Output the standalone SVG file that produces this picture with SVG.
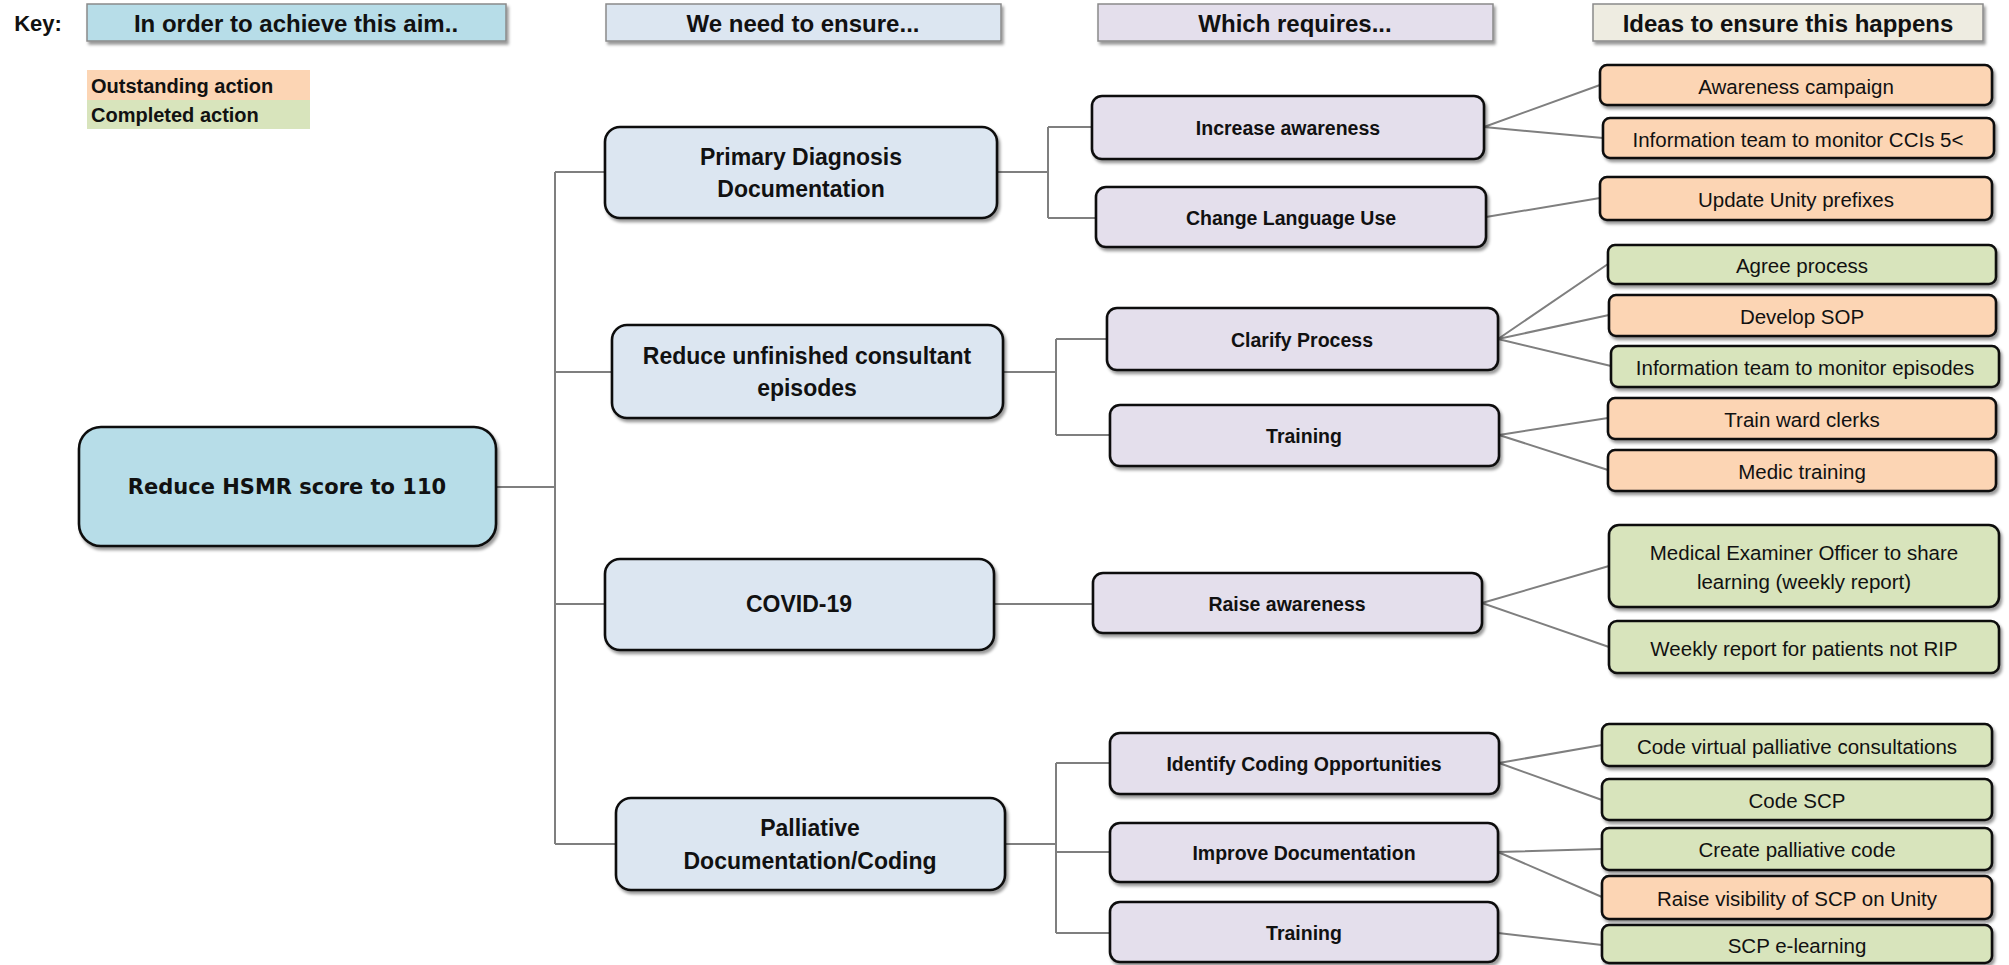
<svg xmlns="http://www.w3.org/2000/svg" width="2009" height="965" viewBox="0 0 2009 965">
<defs>
<filter id="sh" x="-10%" y="-20%" width="125%" height="150%"><feDropShadow dx="2" dy="3" stdDeviation="1.5" flood-color="#000" flood-opacity="0.4"/></filter>
<style>
text{font-family:"Liberation Sans",Arial,sans-serif;fill:#111;text-anchor:middle;dominant-baseline:central}
.hdr rect{stroke:#8a8a8a;stroke-width:1.5;filter:url(#sh)}
.hdr text{font-weight:bold;font-size:24px}
.n rect{stroke:#111;stroke-width:2.6;filter:url(#sh)}
.l1 text{font-family:"DejaVu Sans",sans-serif;font-weight:bold;font-size:21px}
.l2 text{font-weight:bold;font-size:23px}
.l3 text{font-weight:bold;font-size:19.5px}
.l4 text{font-size:20.5px}
.c1{fill:#b7dde8}.c2{fill:#dce6f1}.c3{fill:#e4dfec}.c4{fill:#eeece1}
.or{fill:#fcd5b4}.gr{fill:#d8e4bc}
#connectors path{fill:none;stroke:#7f7f7f;stroke-width:2}
.leg text{font-weight:bold;font-size:20px;text-anchor:start}
</style>
</defs>
<rect width="2009" height="965" fill="#fff"/>

<g id="key">
<text x="38" y="23" style="font-weight:bold;font-size:22px">Key:</text>
</g>
<g id="hdr1" class="hdr"><rect class="c1" x="87" y="4" width="419" height="37"/><text x="296" y="23">In order to achieve this aim..</text></g>
<g id="hdr2" class="hdr"><rect class="c2" x="606" y="4" width="395" height="37"/><text x="803" y="23">We need to ensure...</text></g>
<g id="hdr3" class="hdr"><rect class="c3" x="1098" y="4" width="395" height="37"/><text x="1295" y="23">Which requires...</text></g>
<g id="hdr4" class="hdr"><rect class="c4" x="1593" y="4" width="390" height="37"/><text x="1788" y="23">Ideas to ensure this happens</text></g>

<g id="legend" class="leg">
<rect class="or" x="87" y="70" width="223" height="30"/><text x="91" y="86">Outstanding action</text>
<rect class="gr" x="87" y="100" width="223" height="29"/><text x="91" y="115">Completed action</text>
</g>

<g id="connectors">
<path d="M496 487H555M555 172V844M555 172H605M555 372H612M555 604H605M555 844H616"/>
<path d="M997 172H1048M1048 127V218M1048 127H1092M1048 218H1096"/>
<path d="M1003 372H1056M1056 339V435M1056 339H1107M1056 435H1110"/>
<path d="M994 604H1093"/>
<path d="M1005 844H1056M1056 763V933M1056 763H1110M1056 852H1110M1056 933H1110"/>
<path d="M1484 127L1600 85M1484 127L1603 138"/>
<path d="M1486 217L1600 198"/>
<path d="M1498 339L1608 264M1498 339L1609 315M1498 339L1611 366"/>
<path d="M1499 435L1608 418M1499 435L1608 470"/>
<path d="M1482 603L1609 566M1482 603L1609 647"/>
<path d="M1499 763L1602 745M1499 763L1602 800"/>
<path d="M1498 852L1602 849M1498 852L1602 897"/>
<path d="M1498 933L1602 945"/>
</g>

<g id="n-hsmr" class="n l1"><rect class="c1" x="79" y="427" width="417" height="119" rx="22"/><text x="287" y="487">Reduce HSMR score to 110</text></g>

<g id="n-pdd" class="n l2"><rect class="c2" x="605" y="127" width="392" height="91" rx="15"/><text x="801" y="157">Primary Diagnosis</text><text x="801" y="189">Documentation</text></g>
<g id="n-ruce" class="n l2"><rect class="c2" x="612" y="325" width="391" height="93" rx="15"/><text x="807" y="356">Reduce unfinished consultant</text><text x="807" y="388">episodes</text></g>
<g id="n-covid" class="n l2"><rect class="c2" x="605" y="559" width="389" height="91" rx="15"/><text x="799" y="604">COVID-19</text></g>
<g id="n-pall" class="n l2"><rect class="c2" x="616" y="798" width="389" height="92" rx="15"/><text x="810" y="828">Palliative</text><text x="810" y="861">Documentation/Coding</text></g>

<g id="n-incaw" class="n l3"><rect class="c3" x="1092" y="96" width="392" height="63" rx="10"/><text x="1288" y="128">Increase awareness</text></g>
<g id="n-lang" class="n l3"><rect class="c3" x="1096" y="187" width="390" height="60" rx="10"/><text x="1291" y="218">Change Language Use</text></g>
<g id="n-clar" class="n l3"><rect class="c3" x="1107" y="308" width="391" height="62" rx="10"/><text x="1302" y="340">Clarify Process</text></g>
<g id="n-train1" class="n l3"><rect class="c3" x="1110" y="405" width="389" height="61" rx="10"/><text x="1304" y="436">Training</text></g>
<g id="n-raise" class="n l3"><rect class="c3" x="1093" y="573" width="389" height="60" rx="10"/><text x="1287" y="604">Raise awareness</text></g>
<g id="n-ident" class="n l3"><rect class="c3" x="1110" y="733" width="389" height="61" rx="10"/><text x="1304" y="764">Identify Coding Opportunities</text></g>
<g id="n-impr" class="n l3"><rect class="c3" x="1110" y="823" width="388" height="59" rx="10"/><text x="1304" y="853">Improve Documentation</text></g>
<g id="n-train2" class="n l3"><rect class="c3" x="1110" y="902" width="388" height="60" rx="10"/><text x="1304" y="933">Training</text></g>

<g id="i-awc" class="n l4"><rect class="or" x="1600" y="65" width="392" height="40" rx="7"/><text x="1796" y="86">Awareness campaign</text></g>
<g id="i-cci" class="n l4"><rect class="or" x="1603" y="118" width="391" height="40" rx="7"/><text x="1798" y="139">Information team to monitor CCIs 5&lt;</text></g>
<g id="i-unity" class="n l4"><rect class="or" x="1600" y="177" width="392" height="43" rx="7"/><text x="1796" y="199">Update  Unity prefixes</text></g>
<g id="i-agree" class="n l4"><rect class="gr" x="1608" y="245" width="388" height="39" rx="7"/><text x="1802" y="265">Agree process</text></g>
<g id="i-sop" class="n l4"><rect class="or" x="1609" y="295" width="387" height="41" rx="7"/><text x="1802" y="316">Develop SOP</text></g>
<g id="i-epi" class="n l4"><rect class="gr" x="1611" y="346" width="388" height="41" rx="7"/><text x="1805" y="367">Information team to monitor episodes</text></g>
<g id="i-ward" class="n l4"><rect class="or" x="1608" y="398" width="388" height="41" rx="7"/><text x="1802" y="419">Train ward clerks</text></g>
<g id="i-medic" class="n l4"><rect class="or" x="1608" y="450" width="388" height="41" rx="7"/><text x="1802" y="471">Medic training</text></g>
<g id="i-meo" class="n l4"><rect class="gr" x="1609" y="525" width="390" height="82" rx="10"/><text x="1804" y="552">Medical Examiner Officer to share</text><text x="1804" y="581">learning (weekly report)</text></g>
<g id="i-weekly" class="n l4"><rect class="gr" x="1609" y="621" width="390" height="52" rx="8"/><text x="1804" y="648">Weekly report for patients not RIP</text></g>
<g id="i-cvp" class="n l4"><rect class="gr" x="1602" y="724" width="390" height="42" rx="7"/><text x="1797" y="746">Code virtual palliative consultations</text></g>
<g id="i-scp" class="n l4"><rect class="gr" x="1602" y="779" width="390" height="41" rx="7"/><text x="1797" y="800">Code SCP</text></g>
<g id="i-cpc" class="n l4"><rect class="gr" x="1602" y="828" width="390" height="42" rx="7"/><text x="1797" y="849">Create palliative code</text></g>
<g id="i-vis" class="n l4"><rect class="or" x="1602" y="876" width="390" height="43" rx="7"/><text x="1797" y="898">Raise visibility of SCP on Unity</text></g>
<g id="i-elearn" class="n l4"><rect class="gr" x="1602" y="925" width="390" height="38" rx="7"/><text x="1797" y="945">SCP e-learning</text></g>
</svg>
